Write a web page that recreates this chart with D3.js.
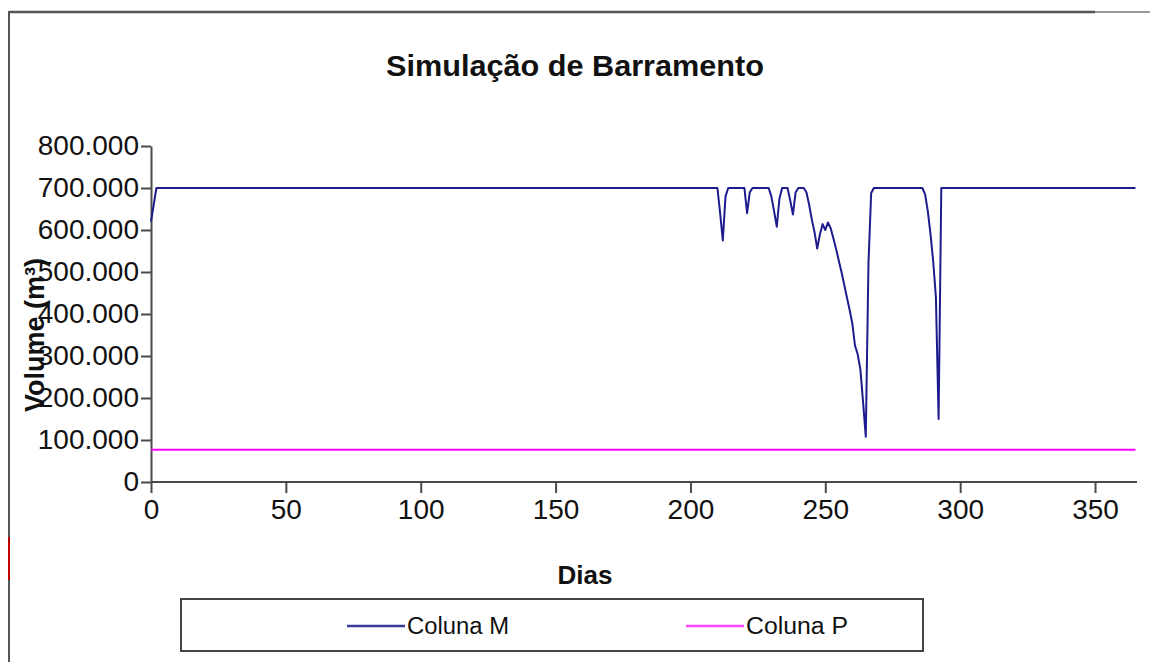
<!DOCTYPE html>
<html>
<head>
  <title>Simulação de Barramento</title>
  <style>
    body { margin: 0; background: #fff; }
    text { font-family: "Liberation Sans", Arial, sans-serif; fill: #111; }
    .axis path, .axis line { stroke: #4a4a4a; stroke-width: 2px; }
    .axis text { font-size: 28px; }
  </style>
</head>
<body>
  <svg id="chart" width="1150" height="662"></svg>

  <script src="https://d3js.org/d3.v7.min.js"></script>
  <script>
    // Coluna M: volume no reservatório (vértices da linha, dia -> m³)
    const diasM = [0, 1, 2, 210, 211, 212, 213, 214, 220, 221, 222, 223,
      229, 230, 231, 232, 233, 234, 236, 237, 238, 239, 240, 242,
      243, 244, 245, 246, 247, 248, 249, 250, 251, 252, 253, 254, 255,
      256, 257, 258, 259, 260, 261, 262, 263, 264, 265, 266, 267, 268,
      286, 287, 288, 289, 290, 291, 292, 293, 365];
    const volumeM = [620000, 660000, 700000, 700000, 640000, 575000, 680000, 700000, 700000, 640000, 690000, 700000,
      700000, 680000, 645000, 608000, 675000, 700000, 700000, 670000, 637000, 690000, 700000, 700000,
      690000, 660000, 625000, 595000, 556000, 590000, 614000, 600000, 618000, 604000, 580000, 555000, 527000,
      500000, 470000, 440000, 410000, 378000, 325000, 304000, 268000, 190000, 108000, 520000, 688000, 700000,
      700000, 685000, 645000, 590000, 525000, 440000, 150000, 700000, 700000];

    // Coluna P: volume mínimo (constante)
    const diasP = [0, 365];
    const volumeP = [77000, 77000];

    const xTicks = [0, 50, 100, 150, 200, 250, 300, 350];
    const yTicks = [0, 100000, 200000, 300000, 400000, 500000, 600000, 700000, 800000];

    const svg = d3.select("#chart");

    const x = d3.scaleLinear().domain([0, 365]).range([151, 1135.5]);
    const y = d3.scaleLinear().domain([0, 800000]).range([482, 146]);

    // moldura externa
    svg.append("line").attr("x1", 9).attr("y1", 12).attr("x2", 1095).attr("y2", 12)
      .attr("stroke", "#555").attr("stroke-width", 2.5);
    svg.append("line").attr("x1", 1095).attr("y1", 12).attr("x2", 1150).attr("y2", 12)
      .attr("stroke", "#777").attr("stroke-width", 1.5);
    svg.append("line").attr("x1", 9).attr("y1", 11).attr("x2", 9).attr("y2", 662)
      .attr("stroke", "#555").attr("stroke-width", 2);
    svg.append("line").attr("x1", 9).attr("y1", 537).attr("x2", 9).attr("y2", 580)
      .attr("stroke", "#c00000").attr("stroke-width", 2);

    // título
    svg.append("text")
      .attr("x", 575).attr("y", 76)
      .attr("text-anchor", "middle")
      .attr("font-size", 30).attr("font-weight", "bold")
      .attr("textLength", 378).attr("lengthAdjust", "spacingAndGlyphs")
      .text("Simulação de Barramento");

    const fmt = d => d === 0 ? "0" : d3.format(",")(d).replace(/,/g, ".");

    // eixos
    svg.append("g").attr("class", "axis")
      .attr("transform", "translate(0,482)")
      .call(d3.axisBottom(x).tickValues(xTicks).tickSize(11).tickSizeOuter(0).tickPadding(6))
      .call(g => g.select(".domain").attr("d", "M151,0H1137"));

    svg.append("g").attr("class", "axis")
      .attr("transform", "translate(151,0)")
      .call(d3.axisLeft(y).tickValues(yTicks).tickFormat(fmt).tickSize(10).tickSizeOuter(0).tickPadding(2));

    svg.selectAll(".axis text").attr("fill", "#111").attr("font-family", "Liberation Sans, Arial, sans-serif");

    // rótulos dos eixos
    svg.append("text")
      .attr("x", 585).attr("y", 584)
      .attr("text-anchor", "middle")
      .attr("font-size", 26).attr("font-weight", "bold")
      .text("Dias");

    svg.append("text")
      .attr("transform", "translate(44,335) rotate(-90)")
      .attr("text-anchor", "middle")
      .attr("font-size", 27).attr("font-weight", "bold")
      .text("Volume (m³)");

    // séries
    const line = d3.line().x(d => x(d[0])).y(d => y(d[1]));

    svg.append("path")
      .datum(diasP.map((d, i) => [d, volumeP[i]]))
      .attr("fill", "none").attr("stroke", "#ff00ff").attr("stroke-width", 2)
      .attr("d", line);

    svg.append("path")
      .datum(diasM.map((d, i) => [d, volumeM[i]]))
      .attr("fill", "none").attr("stroke", "#1c1c8e").attr("stroke-width", 2)
      .attr("stroke-linejoin", "round")
      .attr("d", line);

    // legenda
    svg.append("rect")
      .attr("x", 181).attr("y", 599).attr("width", 742).attr("height", 52)
      .attr("fill", "#fff").attr("stroke", "#444").attr("stroke-width", 2);

    const legend = [
      { name: "Coluna M", color: "#3a3a9a", x: 347 },
      { name: "Coluna P", color: "#ff44ff", x: 686 }
    ];
    const li = svg.selectAll(".leg").data(legend).enter().append("g").attr("class", "leg");
    li.append("line")
      .attr("x1", d => d.x).attr("x2", d => d.x + 58)
      .attr("y1", 626).attr("y2", 626)
      .attr("stroke", d => d.color).attr("stroke-width", 2.5);
    li.append("text")
      .attr("x", d => d.x + 60).attr("y", 634)
      .attr("font-size", 23)
      .attr("textLength", 102).attr("lengthAdjust", "spacingAndGlyphs")
      .text(d => d.name);
  </script>
</body>
</html>
